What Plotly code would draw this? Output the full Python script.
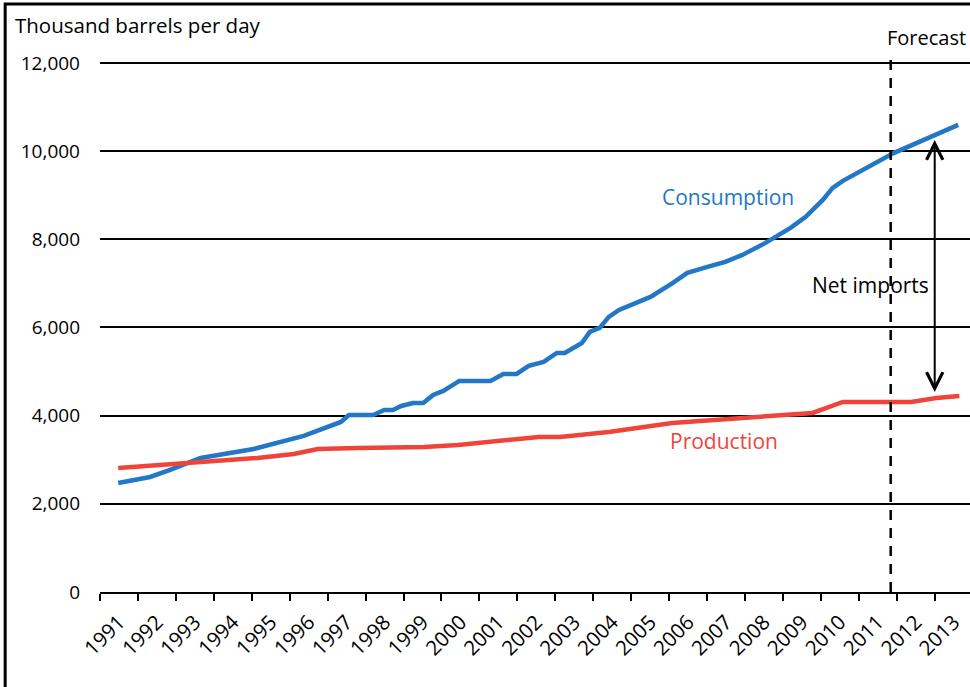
import plotly.graph_objects as go

# ---- data ----
years = list(range(1991, 2014))
year_labels = [str(y) for y in years]

cons_x = [1991.48, 1992.32, 1992.85, 1993.65, 1995.05, 1996.37, 1997.35, 1997.56, 1998.20,
          1998.49, 1998.72, 1998.94, 1999.25, 1999.52, 1999.78, 2000.05, 2000.47, 2001.29,
          2001.63, 2001.98, 2002.30, 2002.69, 2003.04, 2003.25, 2003.70, 2003.91, 2004.17,
          2004.41, 2004.68, 2005.02, 2005.51, 2006.10, 2006.48, 2007.01, 2007.48, 2007.93,
          2008.54, 2009.20, 2009.60, 2010.05, 2010.31, 2010.58, 2011.03, 2011.93, 2013.62]
cons_y = [2473, 2609, 2768, 3040, 3244, 3539, 3856, 4015, 4015,
          4129, 4129, 4219, 4287, 4287, 4469, 4560, 4786, 4786,
          4945, 4945, 5127, 5217, 5422, 5422, 5648, 5898, 5989,
          6238, 6397, 6510, 6692, 7010, 7236, 7372, 7486, 7645,
          7917, 8257, 8507, 8892, 9165, 9323, 9527, 9958, 10594]

prod_x = [1991.48, 1993.38, 1995.15, 1996.11, 1996.74, 1997.80, 1999.54, 2000.44, 2001.32,
          2002.56, 2003.12, 2004.41, 2006.08, 2007.22, 2008.38, 2009.78, 2010.58, 2011.90,
          2012.38, 2013.04, 2013.65]
prod_y = [2813, 2926, 3040, 3131, 3244, 3267, 3290, 3335, 3403,
          3516, 3516, 3630, 3834, 3902, 3993, 4061, 4310, 4310,
          4310, 4400, 4446]

forecast_year = 2011.84
arrow_year = 2013.0
arrow_top = 10250
arrow_bottom = 4500

BLUE = "#2277c6"
RED = "#f0443b"
FONT = "Open Sans"

fig = go.Figure()
fig.add_trace(go.Scatter(x=cons_x, y=cons_y, mode="lines",
                         line=dict(color=BLUE, width=4.5), hoverinfo="skip"))
fig.add_trace(go.Scatter(x=prod_x, y=prod_y, mode="lines",
                         line=dict(color=RED, width=4.5), hoverinfo="skip"))

fig.update_layout(
    width=970, height=687,
    margin=dict(l=100, r=0, t=58, b=95),
    paper_bgcolor="white", plot_bgcolor="white",
    showlegend=False,
    font=dict(family=FONT, size=19, color="black"),
)

fig.update_xaxes(
    range=[1991, 2013.93],
    tickmode="array", tickvals=years, ticktext=year_labels,
    tickangle=-45,
    showgrid=False, zeroline=False,
    showline=True, linecolor="black", linewidth=2,
    ticks="outside", ticklen=7, tickwidth=2, tickcolor="black",
    ticklabelshift=19, ticklabelstandoff=1,
    tickfont=dict(family=FONT, size=20.5, color="black"),
)
fig.update_yaxes(
    range=[0, 12110],
    tickmode="array", tickvals=[0, 2000, 4000, 6000, 8000, 10000, 12000],
    ticktext=["0", "2,000", "4,000", "6,000", "8,000", "10,000", "12,000"],
    showgrid=True, gridcolor="black", gridwidth=2,
    zeroline=False, showline=False, ticks="",
    ticklabelstandoff=19,
    tickfont=dict(family=FONT, size=19, color="black"),
)

# forecast dashed line
fig.add_shape(type="line", xref="x", yref="y", x0=forecast_year, x1=forecast_year,
              y0=0, y1=12110, line=dict(color="black", width=2.5, dash="10px,8px"))

# outer frame
fig.add_shape(type="rect", xref="paper", yref="paper",
              x0=-0.109, x1=1.2, y0=-0.6, y1=(592 - 4) / 534,
              line=dict(color="black", width=3), layer="above")

# net imports arrow
fig.add_annotation(x=arrow_year, y=arrow_top, ax=arrow_year, ay=arrow_bottom,
                   xref="x", yref="y", axref="x", ayref="y", text="",
                   showarrow=True, arrowhead=5, startarrowhead=5, arrowside="end+start",
                   arrowsize=1.6, startarrowsize=1.6, arrowwidth=2, arrowcolor="black")

fig.add_annotation(text="Net imports", x=2012.9, y=6965, xref="x", yref="y",
                   xanchor="right", yanchor="middle", showarrow=False,
                   font=dict(family=FONT, size=21, color="black"))
fig.add_annotation(text="Forecast", x=forecast_year, y=(592 - 37) / 534, xref="x", yref="paper",
                   xanchor="left", yanchor="middle", xshift=-6, showarrow=False,
                   font=dict(family=FONT, size=20, color="black"))
fig.add_annotation(text="Thousand barrels per day", x=(13 - 100) / 870, y=(592 - 25) / 534,
                   xref="paper", yref="paper", xanchor="left", yanchor="middle",
                   showarrow=False, font=dict(family=FONT, size=20.5, color="black"))
fig.add_annotation(text="Consumption", x=2007.55, y=8961, xref="x", yref="y",
                   xanchor="center", yanchor="middle", showarrow=False,
                   font=dict(family=FONT, size=21, color=BLUE))
fig.add_annotation(text="Production", x=2007.44, y=3425, xref="x", yref="y",
                   xanchor="center", yanchor="middle", showarrow=False,
                   font=dict(family=FONT, size=21, color=RED))

fig.write_html("out.html", config={"displayModeBar": False},
               post_script="document.body.style.margin='0';")
